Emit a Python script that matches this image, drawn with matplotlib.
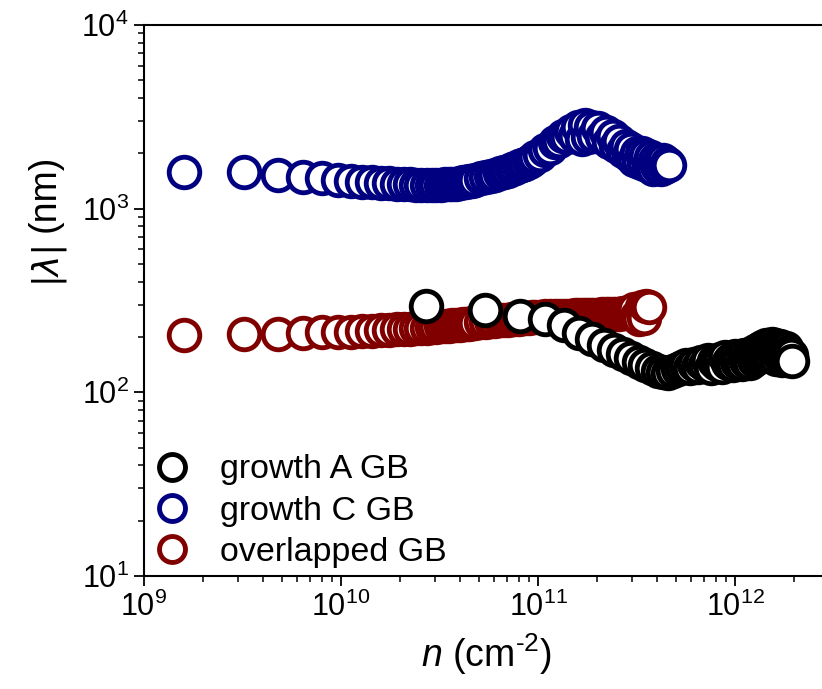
import numpy as np
import matplotlib
matplotlib.use("Agg")
import matplotlib.pyplot as plt
from matplotlib.lines import Line2D

plt.rcParams['font.family'] = ['Liberation Sans', 'DejaVu Sans']
plt.rcParams['mathtext.fontset'] = 'custom'
plt.rcParams['mathtext.rm'] = 'Liberation Sans'
plt.rcParams['mathtext.it'] = 'Liberation Sans:italic'
plt.rcParams['mathtext.bf'] = 'Liberation Sans:bold'

# ---------------- data (n in units of 1e9 cm^-2, lambda in nm) ----------------
n_C = [1.6, 3.2, 4.8, 6.4, 8.0, 9.6, 11.2, 12.8, 14.4, 16.0,
       17.6, 19.2, 20.8, 22.4, 24.0, 25.6, 27.2, 28.8, 30.4, 32.0,
       33.6, 35.2, 36.8, 38.4, 40.0, 41.6, 43.2, 44.8, 46.4, 48.0,
       51.2, 54.4, 57.6, 60.8, 64.0, 67.2, 70.4, 73.6, 76.8, 80.0,
       83.2, 86.4, 89.6, 92.8, 96.0,
       102.4, 108.8, 115.2, 121.6, 128.0, 134.4, 140.8, 147.2, 153.6, 160.0,
       166.4, 172.8, 179.2, 185.6, 192.0,
       201.6, 211.2, 220.8, 230.4, 240.0, 249.6, 259.2, 268.8, 278.4, 288.0,
       297.6, 307.2, 316.8, 326.4, 336.0, 345.6, 355.2, 364.8, 374.4, 384.0,
       393.6, 403.2, 412.8, 422.4, 432.0, 441.6, 451.2, 460.8]
lam_C = [1585, 1580, 1525, 1490, 1460, 1440, 1420, 1405, 1395, 1385,
         1375, 1370, 1360, 1355, 1350, 1345, 1345, 1340, 1345, 1350,
         1355, 1360, 1365, 1370, 1380, 1390, 1400, 1410, 1420, 1435,
         1460, 1480, 1500, 1530, 1565, 1590, 1610, 1640, 1670, 1700,
         1730, 1760, 1800, 1850, 1900,
         1960, 2080, 2150, 2300, 2350, 2500, 2450, 2650, 2500, 2800,
         2400, 2850, 2450, 2800, 2500,
         2750, 2450, 2600, 2300, 2500, 2200, 2350, 2050, 2200, 1950,
         2100, 1850, 2000, 1800, 2000, 1750, 1950, 1700, 1900, 1650,
         1850, 1700, 1800, 1650, 1850, 1680, 1780, 1730]

n_O = [1.6, 3.2, 4.8, 6.4, 8.0, 9.6, 11.2, 12.8, 14.4, 16.0,
       17.6, 19.2, 20.8, 22.4, 24.0, 25.6, 27.2, 28.8, 30.4, 32.0,
       33.6, 35.2, 36.8, 38.4, 40.0, 41.6, 43.2, 44.8, 46.4, 48.0,
       51.2, 54.4, 57.6, 60.8, 64.0, 67.2, 70.4, 73.6, 76.8, 80.0,
       83.2, 86.4, 89.6, 92.8, 96.0,
       102.4, 108.8, 115.2, 121.6, 128.0, 134.4, 140.8, 147.2, 153.6, 160.0,
       166.4, 172.8, 179.2, 185.6, 192.0,
       201.6, 211.2, 220.8, 230.4, 240.0, 249.6, 259.2, 268.8, 278.4, 288.0,
       297.6, 307.2, 316.8, 326.4, 336.0, 345.6, 355.2, 364.8]
lam_O = [205, 207, 209, 211, 212, 213, 214, 216, 217, 218,
         219, 220, 221, 222, 223, 224, 225, 226, 228, 229,
         230, 231, 232, 233, 234, 235, 236, 237, 238, 239,
         241, 242, 244, 245, 247, 248, 249, 250, 251, 252,
         253, 254, 255, 256, 257,
         258, 259, 259, 260, 261, 261, 262, 262, 263, 263,
         263, 264, 264, 265, 265,
         265, 266, 266, 267, 267, 268, 268, 269, 270, 272,
         278, 285, 262, 250, 290, 255, 295, 292]

n_A = [27, 54, 81, 108, 135, 162, 189, 216, 243, 270,
       297, 324, 351, 378, 405, 432, 459, 486, 513, 540,
       567, 594, 621, 648, 675, 702, 729, 756, 783, 810,
       837, 864, 891, 918, 945, 972, 999, 1026, 1053, 1080,
       1107, 1134, 1161, 1188, 1215, 1242, 1269, 1296, 1323, 1350,
       1377, 1404, 1431, 1458, 1485, 1512, 1539, 1566, 1593, 1620,
       1647, 1674, 1701, 1728, 1755, 1782, 1809, 1836, 1863, 1890,
       1917, 1944]
lam_A = [295, 281, 260, 251, 232, 211, 195, 182, 170, 161,
         153, 146, 140, 135, 131, 129, 128, 131, 134, 137,
         140, 135, 142, 138, 146, 140, 150, 136, 148, 142,
         152, 138, 155, 145, 150, 140, 158, 146, 153, 142,
         160, 148, 156, 145, 164, 150, 168, 155, 172, 158,
         176, 160, 180, 162, 178, 158, 183, 165, 180, 152,
         176, 160, 178, 150, 172, 158, 175, 150, 165, 155,
         160, 148]

labels = ["growth A GB", "growth C GB", "overlapped GB"]
colors = ["#000000", "#000080", "#800000"]

# ---------------- figure ----------------
W, H = 822, 689
fig = plt.figure(figsize=(W/100, H/100), dpi=100)
ax = fig.add_axes([144/W, 113/H, 685/W, 551/H])
ax.set_xscale('log')
ax.set_yscale('log')

ms, mew = 22, 3.5
hC, = ax.plot(np.array(n_C)*1e9, lam_C, 'o', ls='none', mfc='white', mec=colors[1], ms=ms, mew=mew)
hO, = ax.plot(np.array(n_O)*1e9, lam_O, 'o', ls='none', mfc='white', mec=colors[2], ms=ms, mew=mew)
hA, = ax.plot(np.array(n_A)*1e9, lam_A, 'o', ls='none', mfc='white', mec=colors[0], ms=ms, mew=mew)

ax.set_xlim(1e9, 3e12)
ax.set_ylim(10, 1e4)

for s in ['left', 'bottom', 'top', 'right']:
    ax.spines[s].set_linewidth(1.5)
ax.spines['right'].set_visible(False)

ax.tick_params(which='major', direction='out', length=7, width=1.3, labelsize=22, pad=4,
               top=False, right=False)
ax.tick_params(which='minor', direction='out', length=4, width=1.1, top=False, right=False)

ax.set_xlabel(r'$n$ (cm$^{\text{-}2}$)', fontsize=27, labelpad=6)

# y label: oblique |lambda| followed by upright (nm)
t1 = fig.text(45/W, (H-282)/H, '|λ|', rotation=90, fontsize=25, style='oblique',
              family=['DejaVu Sans'], ha='center', va='bottom')
fig.canvas.draw()
bb = t1.get_window_extent()
fig.text(45/W, (bb.y1 + 6)/H, '(nm)', rotation=90, fontsize=27, ha='center', va='bottom')

handles = [Line2D([], [], ls='none', marker='o', mfc='white', mec=c, ms=ms*0.85, mew=mew) for c in colors]
ax.legend(handles, labels, loc='lower left', bbox_to_anchor=(-0.009, -0.01), frameon=False,
          fontsize=24.5, handlelength=1.2, handletextpad=0.8, labelspacing=0.3,
          borderaxespad=0.0)

fig.savefig('out.png', dpi=100)
